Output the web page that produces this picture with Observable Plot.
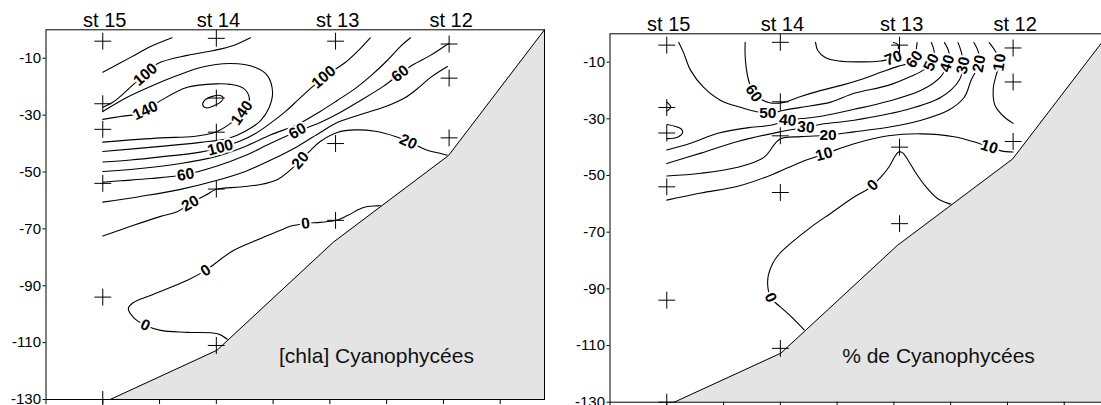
<!DOCTYPE html>
<html><head><meta charset="utf-8">
<script src="https://cdn.jsdelivr.net/npm/d3@7"></script>
<script src="https://cdn.jsdelivr.net/npm/@observablehq/plot@0.6"></script>
<style>
html,body{margin:0;padding:0;background:#fff;overflow:hidden;width:1101px;height:405px}
#wrap{position:relative;width:1101px;height:405px;overflow:hidden}
#wrap svg{position:absolute;overflow:visible}
</style></head><body><div id="wrap"></div>
<script>
// ---- shared data ----
const stationNames = ["st 15", "st 14", "st 13", "st 12"];
const stationX = [1.0, 3.0, 5.1, 7.1];
const sampleDepths = [[-4, -26, -35, -54, -94, -130], [-3, -24, -36, -56, -111], [-4, -40, -67], [-5, -17, -38]];
const floorX = [1.13, 3.01, 5.06, 7.09, 8.78];
const floorDepth = [-130, -112.7, -74.7, -44.2, 0];
const depthTicks = [-10, -30, -50, -70, -90, -110, -130];
const distTicks = [0, 1, 2, 3, 4, 5, 6, 7, 8];
const depthDomain = [-130, 0];
const distDomain = [0, 8.78];

// ---- panel 1 : [chla] Cyanophycées, contour lines (distance, depth) ----
const chl160 = [[2.76,-26.3],[2.81,-24.5],[2.93,-23.4],[3.07,-23.1],[3.12,-23.8],[3.09,-25.2],[2.97,-26.6],[2.83,-27.5]];
const chl140 = [[1.0,-31.5],[1.31,-30.5],[1.66,-29.4],[1.75,-28.4],[2.02,-24.9],[2.49,-20.2],[3.01,-19.0],[3.25,-19.2],[3.48,-20.6],[3.58,-23.8],[3.55,-27.0],[3.42,-29.8],[3.25,-32.9],[2.98,-36.0],[2.60,-37.5],[2.02,-38.0],[1.0,-39.5]];
const chl120 = [[1.0,-42.8],[2.02,-41.0],[2.72,-39.6],[3.21,-38.2],[3.51,-35.7],[3.78,-31.9],[3.93,-27.3],[3.99,-22.0],[3.90,-16.1],[3.69,-13.25],[3.25,-11.85],[2.72,-13.25],[2.31,-16.1],[1.84,-19.9],[1.43,-23.7],[1.0,-28.7]];
const chl100a = [[1.0,-27.2],[1.17,-25.55],[1.35,-22.7],[1.54,-19.2],[1.75,-15.7],[1.96,-11.95],[2.49,-9.0],[2.95,-7.3],[3.30,-5.5],[3.60,-2.8]];
const chl100b = [[5.71,-2.8],[5.50,-7.3],[5.27,-11.5],[5.06,-14.3],[4.89,-16.8],[4.66,-20.6],[4.43,-24.85],[4.22,-28.7],[3.95,-32.9],[3.69,-36.45],[3.42,-39.1],[3.07,-41.4],[2.72,-43.0],[2.02,-44.7],[1.49,-45.8],[1.0,-46.5]];
const chl80a = [[1.0,-14.9],[1.49,-9.7],[1.84,-5.9],[2.22,-2.8]];
const chl80b = [[6.42,-2.8],[6.24,-5.9],[6.01,-10.8],[5.71,-16.4],[5.45,-20.6],[5.13,-24.85],[4.83,-28.7],[4.43,-33.3],[3.95,-37.0],[3.51,-41.0],[3.0,-44.5],[2.37,-47.0],[1.66,-48.75],[1.0,-49.8]];
const chl60 = [[7.09,-4.8],[6.77,-9.0],[6.47,-12.2],[6.24,-15.4],[5.94,-19.9],[5.54,-24.85],[5.18,-29.1],[4.83,-32.6],[4.43,-35.7],[3.95,-40.0],[3.51,-44.2],[3.0,-48.0],[2.46,-50.9],[1.84,-52.3],[1.31,-53.1],[1.0,-53.6]];
const chl40 = [[7.07,-12.9],[6.77,-16.8],[6.59,-19.9],[6.33,-23.8],[5.98,-27.0],[5.54,-29.8],[5.13,-32.6],[4.83,-36.1],[4.43,-41.0],[3.95,-45.9],[3.51,-49.8],[3.0,-53.0],[2.37,-56.1],[1.66,-58.6],[1.0,-60.6]];
const chl20 = [[1.0,-72.5],[1.49,-69.1],[2.02,-65.6],[2.32,-63.9],[2.54,-61.05],[2.81,-58.2],[3.0,-56.1],[3.42,-55.3],[3.78,-54.4],[4.08,-52.6],[4.29,-49.5],[4.48,-45.9],[4.66,-42.4],[4.83,-39.3],[5.13,-36.1],[5.45,-35.2],[5.80,-35.7],[6.15,-37.5],[6.42,-39.6],[6.68,-42.1],[6.95,-43.5],[7.09,-44.2]];
const chl0 = [[5.98,-61.8],[5.82,-61.9],[5.59,-62.5],[5.31,-65.3],[5.11,-67.0],[4.83,-67.7],[4.57,-68.1],[4.30,-69.1],[4.13,-70.5],[3.78,-73.4],[3.30,-77.6],[2.81,-84.6],[2.49,-88.1],[1.84,-93.4],[1.54,-95.9],[1.45,-98.0],[1.54,-101.1],[1.75,-103.9],[2.02,-105.7],[2.49,-106.4],[3.02,-106.9],[3.20,-108.9]];
const chlLabels = [[1.75,-15.7,"100"],[1.75,-28.4,"140"],[3.45,-29.2,"140"],[3.07,-41.4,"100"],[2.46,-50.9,"60"],[2.54,-61.05,"20"],[4.89,-16.6,"100"],[4.43,-35.6,"60"],[6.24,-15.4,"60"],[4.48,-45.9,"20"],[6.38,-39.4,"20"],[4.57,-68.1,"0"],[2.81,-84.6,"0"],[1.75,-103.9,"0"]];
const chlLabelAngles = [-40, -25, -55, -15, -10, -30, -40, -30, -38, -50, 25, -8, -33, 26];

// ---- panel 2 : % de Cyanophycées ----
const pct70 = [[3.62,-3.0],[3.66,-5.9],[3.79,-8.35],[4.03,-9.6],[4.42,-9.9],[4.77,-9.6],[4.99,-8.35],[5.07,-5.9],[5.07,-3.8],[4.99,-3.1]];
const pct60 = [[2.38,-3.0],[2.38,-7.6],[2.40,-12.2],[2.45,-17.1],[2.53,-21.0],[2.66,-23.1],[2.83,-24.4],[3.06,-24.2],[3.36,-22.1],[3.72,-19.96],[4.07,-18.2],[4.42,-16.1],[4.77,-13.6],[5.07,-11.5],[5.25,-10.5],[5.36,-8.7],[5.39,-5.9],[5.41,-3.1]];
const pct50 = [[1.21,-3.0],[1.30,-6.9],[1.42,-12.9],[1.65,-18.9],[1.95,-23.5],[2.30,-25.95],[2.78,-28.1],[3.06,-27.0],[3.36,-25.95],[3.89,-24.1],[4.30,-21.0],[4.90,-18.2],[5.30,-15.0],[5.51,-12.9],[5.66,-10.1],[5.71,-6.6],[5.66,-3.1]];
const pct50s1 = [[1.0,-24.1],[1.07,-25.8],[1.0,-27.3]];
const pct50s2 = [[1.01,-32.0],[1.25,-33.5],[1.28,-34.7],[1.19,-36.5],[1.01,-37.0]];
const pct40 = [[1.0,-41.0],[1.42,-38.6],[1.90,-35.1],[2.48,-33.0],[2.83,-32.3],[3.13,-30.5],[3.45,-29.8],[3.72,-29.1],[4.30,-26.65],[4.90,-23.8],[5.48,-19.96],[5.83,-15.0],[5.94,-10.5],[5.97,-6.6],[5.89,-3.1]];
const pct30 = [[1.0,-45.8],[1.60,-42.1],[2.25,-38.0],[2.99,-34.6],[3.45,-33.0],[3.72,-31.9],[4.30,-30.5],[5.18,-27.0],[5.83,-22.4],[6.15,-16.4],[6.22,-11.2],[6.19,-6.6],[6.13,-3.1]];
const pct20 = [[1.0,-50.2],[1.60,-49.2],[2.25,-47.1],[2.71,-43.6],[2.99,-37.2],[3.36,-36.3],[3.84,-35.8],[4.30,-34.6],[4.90,-33.0],[5.48,-30.5],[5.96,-27.0],[6.24,-22.4],[6.36,-16.4],[6.50,-10.5],[6.49,-6.6],[6.41,-3.1]];
const pct10a = [[1.0,-58.7],[1.60,-56.2],[2.25,-53.8],[2.83,-49.9],[3.36,-45.3],[3.77,-42.5],[4.30,-38.8],[4.90,-36.0],[5.48,-35.3],[6.06,-36.3],[6.49,-38.6],[6.68,-39.9],[6.89,-41.3],[7.10,-41.7]];
const pct10b = [[6.68,-3.1],[6.80,-6.6],[6.86,-10.1],[6.80,-14.7],[6.75,-19.3],[6.78,-25.2],[6.93,-29.1],[7.10,-31.6]];
const pct0 = [[3.42,-104.5],[3.22,-100.3],[3.06,-97.4],[2.92,-95.0],[2.83,-93.1],[2.78,-89.3],[2.79,-85.1],[2.87,-80.9],[2.98,-77.7],[3.19,-73.8],[3.54,-68.2],[3.89,-63.3],[4.30,-57.6],[4.51,-55.2],[4.63,-53.4],[4.77,-50.6],[4.91,-47.1],[5.02,-43.2],[5.09,-41.6],[5.16,-42.1],[5.25,-44.6],[5.39,-49.2],[5.57,-54.1],[5.78,-58.3],[6.06,-60.5]];
const pctLabels = [[2.53,-21.0,"60"],[2.78,-28.1,"50"],[3.13,-30.5,"40"],[3.45,-33.0,"30"],[3.84,-35.8,"20"],[3.77,-42.5,"10"],[4.99,-8.6,"70"],[5.36,-9.0,"60"],[5.66,-10.1,"50"],[5.94,-10.5,"40"],[6.22,-11.2,"30"],[6.50,-10.5,"20"],[6.86,-10.1,"10"],[6.68,-39.9,"10"],[4.63,-53.4,"0"],[2.83,-93.1,"0"]];
const pctLabelAngles = [55, 0, 5, 5, 0, -15, -20, -55, -65, -72, -78, -80, -82, 18, -45, 65];

// ---- helpers building tables from the arrays ----
const rows = pieces => pieces.flatMap((pts, k) => pts.map(([x, y]) => ({x, y, k})));
const crossRows = stationX.flatMap((x, i) => sampleDepths[i].map(y => ({x, y})));
const floorRows = floorX.map((x, i) => ({x, depth: floorDepth[i]}));
const labelRows = (labels, angles) => labels.map(([x, y, t], i) => ({x, y, t, a: angles[i]}));

const FONT = "'Liberation Sans', Arial, Helvetica, sans-serif";

function panel({open, closed, labels, title, height, marginBottom, titleDx, titleDy}) {
  return Plot.plot({
    width: 560, height, marginLeft: 45.5, marginRight: 16, marginTop: 29.3, marginBottom,
    x: {domain: distDomain, axis: null},
    y: {domain: depthDomain, axis: null},
    style: {fontFamily: FONT, fontSize: "15px", background: "transparent", overflow: "visible", color: "black"},
    marks: [
      Plot.line(rows(open), {x: "x", y: "y", z: "k", curve: "catmull-rom", stroke: "black", strokeWidth: 1.1}),
      ...closed.map(c => Plot.line(c.map(([x, y]) => ({x, y})), {x: "x", y: "y", curve: "catmull-rom-closed", stroke: "black", strokeWidth: 1.1})),
      Plot.areaY(floorRows, {x: "x", y1: depthDomain[0], y2: "depth", fill: "#e4e4e4"}),
      Plot.line(floorRows, {x: "x", y: "depth", stroke: "black", strokeWidth: 1}),
      Plot.frame({stroke: "black", strokeWidth: 1}),
      Plot.text(labels, {x: "x", y: "y", text: "t", rotate: "a", fontSize: 15.5, fontWeight: "bold", fill: "black", stroke: "white", strokeWidth: 4, paintOrder: "stroke"}),
      Plot.dot(crossRows, {x: "x", y: "y", symbol: "plus", r: 5.5, stroke: "black", strokeWidth: 1}),
      Plot.text(stationNames, {x: (d, i) => stationX[i], frameAnchor: "top", lineAnchor: "bottom", dy: -2.5, dx: 2, fontSize: 20, fill: "black"}),
      Plot.text([title], {frameAnchor: "bottom-right", lineAnchor: "bottom", textAnchor: "middle", dx: titleDx, dy: titleDy, fontSize: 21, fill: "#111"}),
      Plot.axisY({ticks: depthTicks, tickSize: 3, tickPadding: 2, fontSize: 15, tickFormat: d => String(d), label: null}),
      Plot.axisX({ticks: distTicks, tickSize: 5, tickFormat: () => "", label: null})
    ]
  });
}

const wrap = document.getElementById("wrap");
const left = panel({
  open: [chl140, chl120, chl100a, chl100b, chl80a, chl80b, chl60, chl40, chl20, chl0],
  closed: [chl160],
  labels: labelRows(chlLabels, chlLabelAngles),
  title: "[chla] Cyanophycées",
  height: 405, marginBottom: 6, titleDx: -168, titleDy: -37
});
left.style.left = "0px"; left.style.top = "0px";
wrap.appendChild(left);

const right = panel({
  open: [pct70, pct60, pct50, pct50s1, pct50s2, pct40, pct30, pct20, pct10a, pct10b, pct0],
  closed: [],
  labels: labelRows(pctLabels, pctLabelAngles),
  title: "% de Cyanophycées",
  height: 404, marginBottom: 6.3, titleDx: -170, titleDy: -39
});
right.style.left = "563.8px"; right.style.top = "4px";
wrap.appendChild(right);
</script>
</body></html>
